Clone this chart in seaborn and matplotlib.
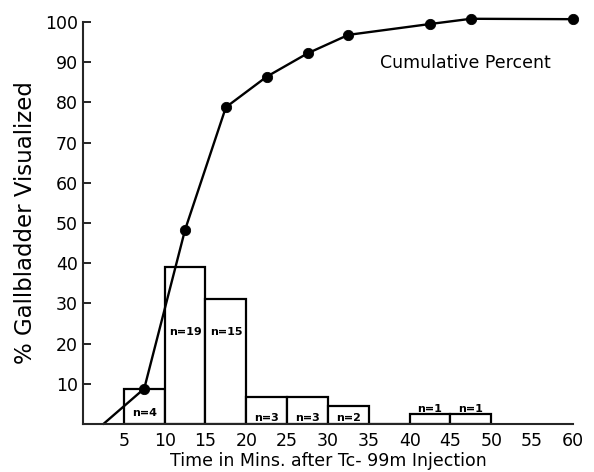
import matplotlib
matplotlib.use("Agg")
import matplotlib.pyplot as plt
import seaborn as sns
import numpy as np

# Histogram: bin edges (minutes) and % of gallbladders visualized per bin
bin_edges = [5, 10, 15, 20, 25, 30, 35, 40, 45, 50]
bin_centers = [7.5, 12.5, 17.5, 22.5, 27.5, 32.5, 37.5, 42.5, 47.5]
bin_percent = [8.7, 39.0, 31.0, 6.7, 6.8, 4.5, 0.0, 2.5, 2.5]
bin_n = ["n=4", "n=19", "n=15", "n=3", "n=3", "n=2", "", "n=1", "n=1"]

# Cumulative percent curve
curve_time = [2.5, 7.5, 12.5, 17.5, 22.5, 27.5, 32.5, 42.5, 47.5, 60]
curve_pct = [0.0, 8.8, 48.3, 78.8, 86.4, 92.2, 96.8, 99.5, 100.8, 100.7]
point_time = [7.5, 12.5, 17.5, 22.5, 27.5, 32.5, 42.5, 47.5, 60]
point_pct = [8.8, 48.3, 78.8, 86.4, 92.2, 96.8, 99.5, 100.8, 100.7]

x_ticks = [5, 10, 15, 20, 25, 30, 35, 40, 45, 50, 55, 60]
y_ticks = [10, 20, 30, 40, 50, 60, 70, 80, 90, 100]

sns.set_style("white")
plt.rcParams["font.family"] = ["DejaVu Sans"]
plt.rcParams["text.color"] = "black"
plt.rcParams["axes.labelcolor"] = "black"
plt.rcParams["xtick.color"] = "black"
plt.rcParams["ytick.color"] = "black"

fig = plt.figure(figsize=(5.94, 4.72), dpi=100)
ax = fig.add_axes([0.1397, 0.1017, 0.8249, 0.8517])

sns.histplot(x=bin_centers, weights=bin_percent, bins=bin_edges, ax=ax,
             stat="count", element="bars", fill=True, color="white",
             edgecolor="black", linewidth=1.6, alpha=1)

sns.lineplot(x=curve_time, y=curve_pct, ax=ax, color="black", linewidth=1.7,
             sort=False)
sns.scatterplot(x=point_time, y=point_pct, ax=ax, color="black", s=55,
                edgecolor="black", zorder=5, clip_on=False)
for line in ax.lines:
    line.set_clip_on(False)

# n labels
for c, h, lab in zip(bin_centers, bin_percent, bin_n):
    if not lab:
        continue
    if h > 20:
        y = 23
    elif h > 8:
        y = 2.7
    elif h > 3:
        y = 1.5
    else:
        y = h + 1.3
    ax.text(c, y, lab, ha="center", va="center", fontsize=8,
            fontweight="bold", color="black")

ax.text(46.8, 89.8, "Cumulative Percent", ha="center", va="center",
        fontsize=12.5, color="black")

ax.set_xlim(0, 60)
ax.set_ylim(0, 100)
ax.set_xticks(x_ticks)
ax.set_xticklabels([str(t) for t in x_ticks])
ax.set_yticks(y_ticks)
ax.set_yticklabels([str(t) for t in y_ticks])
ax.set_xticks([60], minor=True)
ax.tick_params(axis="x", which="major", length=0, labelsize=12.5, pad=6)
ax.tick_params(axis="x", which="minor", direction="in", length=5, width=1.5,
               bottom=True)
ax.tick_params(axis="y", direction="in", length=6, width=1.2, labelsize=12.5,
               left=True)

ax.set_xlabel("Time in Mins. after Tc- 99m Injection", fontsize=12.5,
              labelpad=1)
ax.set_ylabel("% Gallbladder Visualized", fontsize=16.5, labelpad=6)

sns.despine(ax=ax, top=True, right=True)
ax.spines["left"].set_linewidth(1.5)
ax.spines["bottom"].set_linewidth(1.5)

fig.savefig("out.png", dpi=100)
